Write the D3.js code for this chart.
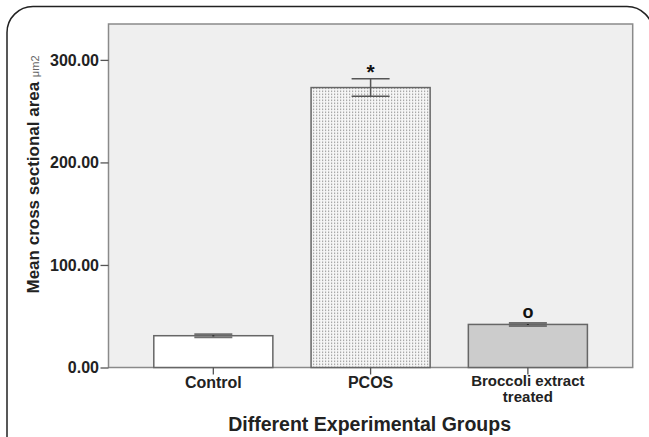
<!DOCTYPE html>
<html>
<head>
<meta charset="utf-8">
<script src="https://cdn.jsdelivr.net/npm/d3@7"></script>
<style>
  body { margin: 0; background: #fff; }
  svg { display: block; font-family: "Liberation Sans", Arial, sans-serif; }
</style>
</head>
<body>
<div id="chart"></div>
<script>
// data
const groups = ["Control", "PCOS", "Broccoli extract treated"];
const groupLines = [["Control"], ["PCOS"], ["Broccoli extract", "treated"]];
const means = [31, 273, 42];
const errors = [1.5, 8.5, 1.5];
const marks = ["", "*", "o"];
const yTicks = [0, 100, 200, 300];

const W = 649, H = 437;
const plot = {left: 108.5, top: 24, right: 632.7, bottom: 367.5};

const svg = d3.select('#chart')
    .append('svg')
    .attr('width', W)
    .attr('height', H);

// dotted fill for the PCOS bar
const defs = svg.append('defs');
const pat = defs.append('pattern')
    .attr('id', 'dots')
    .attr('patternUnits', 'userSpaceOnUse')
    .attr('width', 3)
    .attr('height', 3);
pat.append('rect').attr('width', 3).attr('height', 3).attr('fill', '#f6f6f6');
pat.append('rect').attr('x', 1).attr('y', 0.5).attr('width', 1.2).attr('height', 1.6).attr('fill', '#a8a8a8');

// outer rounded frame
svg.append('rect')
    .attr('x', 7).attr('y', 6.5)
    .attr('width', 646).attr('height', 470)
    .attr('rx', 26)
    .attr('fill', 'none')
    .attr('stroke', '#222')
    .attr('stroke-width', 1.5);

// scales
const x = d3.scaleBand()
    .domain(groups)
    .range([plot.left, plot.right])
    .paddingInner(0.243)
    .paddingOuter(0.288);

const y = d3.scaleLinear()
    .domain([0, 335])
    .range([plot.bottom, plot.top]);

// plot background
svg.append('rect')
    .attr('x', plot.left).attr('y', plot.top)
    .attr('width', plot.right - plot.left)
    .attr('height', plot.bottom - plot.top)
    .attr('fill', '#efefef')
    .attr('stroke', '#8a8a8a')
    .attr('stroke-width', 1.5);

const fills = ['#ffffff', 'url(#dots)', '#cccccc'];

// bars
svg.selectAll('.bar')
    .data(groups)
    .enter()
    .append('rect')
    .attr('class', 'bar')
    .attr('x', d => x(d))
    .attr('y', (d, i) => y(means[i]))
    .attr('width', x.bandwidth())
    .attr('height', (d, i) => y(0) - y(means[i]))
    .attr('fill', (d, i) => fills[i])
    .attr('stroke', '#666')
    .attr('stroke-width', 1.5);

// error bars
const capW = 38;
const eb = svg.selectAll('.err')
    .data(groups)
    .enter()
    .append('g')
    .attr('class', 'err')
    .attr('stroke', (d, i) => errors[i] > 3 ? '#555' : '#707070')
    .attr('stroke-width', (d, i) => errors[i] > 3 ? 1.5 : 2);

eb.append('line')
    .attr('x1', d => x(d) + x.bandwidth() / 2)
    .attr('x2', d => x(d) + x.bandwidth() / 2)
    .attr('y1', (d, i) => y(means[i] + errors[i]))
    .attr('y2', (d, i) => y(means[i] - errors[i]))
    .attr('stroke', (d, i) => errors[i] > 3 ? '#555' : '#222');
eb.append('line')
    .attr('x1', d => x(d) + x.bandwidth() / 2 - capW / 2)
    .attr('x2', d => x(d) + x.bandwidth() / 2 + capW / 2)
    .attr('y1', (d, i) => y(means[i] + errors[i]))
    .attr('y2', (d, i) => y(means[i] + errors[i]));
eb.append('line')
    .attr('x1', d => x(d) + x.bandwidth() / 2 - capW / 2)
    .attr('x2', d => x(d) + x.bandwidth() / 2 + capW / 2)
    .attr('y1', (d, i) => y(means[i] - errors[i]))
    .attr('y2', (d, i) => y(means[i] - errors[i]));

// significance marks
svg.selectAll('.mark')
    .data(groups)
    .enter()
    .append('text')
    .attr('class', 'mark')
    .attr('x', d => x(d) + x.bandwidth() / 2)
    .attr('y', (d, i) => y(means[i] + errors[i]) - (i == 1 ? 0 : 5))
    .attr('text-anchor', 'middle')
    .style('font-weight', 'bold')
    .style('font-size', (d, i) => i == 1 ? '21px' : '18px')
    .style('fill', '#111')
    .text((d, i) => marks[i]);

// y axis
const yAxis = d3.axisLeft(y)
    .tickValues(yTicks)
    .tickSize(8)
    .tickPadding(1.5)
    .tickFormat(d3.format('.2f'));

const gy = svg.append('g')
    .attr('transform', `translate(${plot.left},0)`)
    .call(yAxis);
gy.select('.domain').remove();
gy.selectAll('line').attr('stroke', '#555').attr('stroke-width', 1.3);
gy.selectAll('text')
    .style('font-size', '16px')
    .style('font-weight', 'bold')
    .style('fill', '#222')
    .style('font-family', '"Liberation Sans", Arial, sans-serif');

// x axis
const xAxis = d3.axisBottom(x).tickSize(7).tickFormat('');
const gx = svg.append('g')
    .attr('transform', `translate(0,${plot.bottom})`)
    .call(xAxis);
gx.select('.domain').remove();
gx.selectAll('line').attr('stroke', '#555').attr('stroke-width', 1.3);

// x tick labels (wrapped)
const xl = svg.selectAll('.xlab')
    .data(groups)
    .enter()
    .append('text')
    .attr('class', 'xlab')
    .attr('x', d => x(d) + x.bandwidth() / 2)
    .attr('y', (d, i) => groupLines[i].length > 1 ? 386 : 388)
    .attr('text-anchor', 'middle')
    .style('font-size', (d, i) => groupLines[i].length > 1 ? '15px' : '16px')
    .style('font-weight', 'bold')
    .style('fill', '#222');
xl.selectAll('tspan')
    .data((d, i) => groupLines[i].map(s => ({s: s, cx: x(d) + x.bandwidth() / 2})))
    .enter()
    .append('tspan')
    .attr('x', d => d.cx)
    .attr('dy', (d, i) => i == 0 ? 0 : 15.5)
    .text(d => d.s);

// axis titles
svg.append('text')
    .attr('x', (plot.left + plot.right) / 2 - 1)
    .attr('y', 431)
    .attr('text-anchor', 'middle')
    .style('font-size', '19.5px')
    .style('font-weight', 'bold')
    .style('fill', '#222')
    .text('Different Experimental Groups');

const yt = svg.append('text')
    .attr('transform', 'translate(38.5,174.5) rotate(-90)')
    .attr('text-anchor', 'middle')
    .style('font-size', '17px')
    .style('font-weight', 'bold')
    .style('fill', '#222');
yt.append('tspan').text('Mean cross sectional area ');
yt.append('tspan')
    .style('font-size', '11px')
    .style('font-weight', 'normal')
    .style('fill', '#666')
    .text('μm2');
</script>
</body>
</html>
